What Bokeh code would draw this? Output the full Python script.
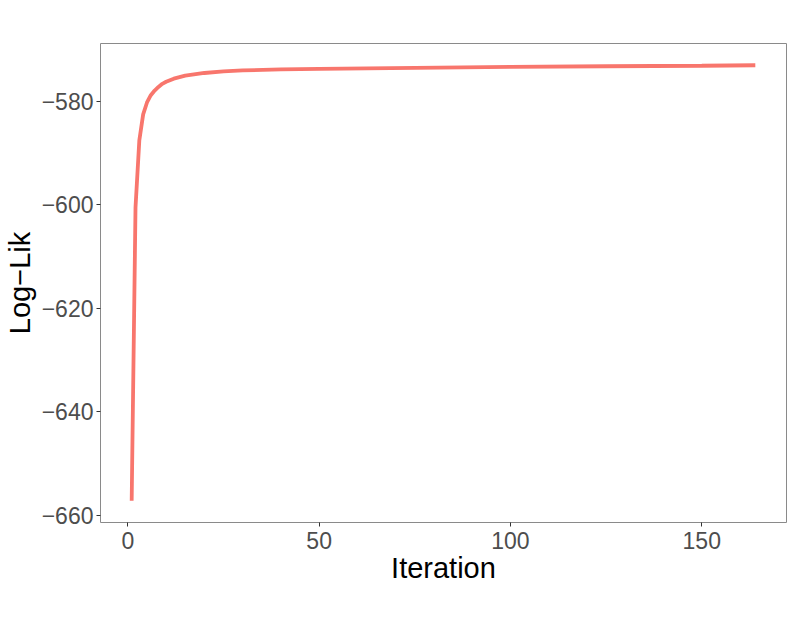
from bokeh.plotting import figure
from bokeh.models import Range1d, FixedTicker
from bokeh.embed import file_html
from bokeh.resources import INLINE

# Data
iteration = [1, 2, 3, 4, 5, 6, 7, 8, 9, 10, 12, 15, 20, 25, 30, 40, 50, 75, 100, 125, 150, 164]
loglik = [-657.2, -600.5, -587.5, -582.5, -580.2, -578.8, -577.9, -577.2, -576.6, -576.2,
          -575.6, -575.0, -574.5, -574.2, -574.0, -573.8, -573.7, -573.5, -573.3, -573.2,
          -573.1, -573.0]

x_ticks = [0, 50, 100, 150]
y_ticks = [-660, -640, -620, -600, -580]
y_tick_labels = {t: "\u2212" + str(abs(t)) for t in y_ticks}

p = figure(width=787, height=618, output_backend="svg", toolbar_location=None,
           x_range=Range1d(-7.15, 172.15), y_range=Range1d(-661.4, -568.8),
           min_border_left=100, min_border_right=1, min_border_top=43, min_border_bottom=96)

p.line(iteration, loglik, line_color="#F8766D", line_width=3.8)

p.background_fill_color = "white"
p.border_fill_color = "white"
p.outline_line_color = "#8a8a8a"
p.outline_line_width = 1
p.xgrid.visible = False
p.ygrid.visible = False

p.xaxis.ticker = FixedTicker(ticks=x_ticks)
p.yaxis.ticker = FixedTicker(ticks=y_ticks)
p.yaxis.major_label_overrides = y_tick_labels

for ax in (p.xaxis, p.yaxis):
    ax.axis_line_color = None
    ax.major_tick_line_color = "#333333"
    ax.major_tick_out = 4
    ax.major_tick_in = 0
    ax.minor_tick_line_color = None
    ax.major_label_text_font = "Liberation Sans"
    ax.major_label_text_font_size = "23px"
    ax.major_label_text_color = "#4d4d4d"
    ax.axis_label_text_font = "Liberation Sans"
    ax.axis_label_text_font_size = "29px"
    ax.axis_label_text_font_style = "normal"
    ax.axis_label_text_color = "black"

p.xaxis.axis_label = "Iteration"
p.yaxis.axis_label = "Log\u2212Lik"
p.xaxis.major_label_standoff = 5
p.yaxis.major_label_standoff = 3
p.xaxis.axis_label_standoff = 0
p.yaxis.axis_label_standoff = 3

open("out.html", "w").write(file_html(p, INLINE))
